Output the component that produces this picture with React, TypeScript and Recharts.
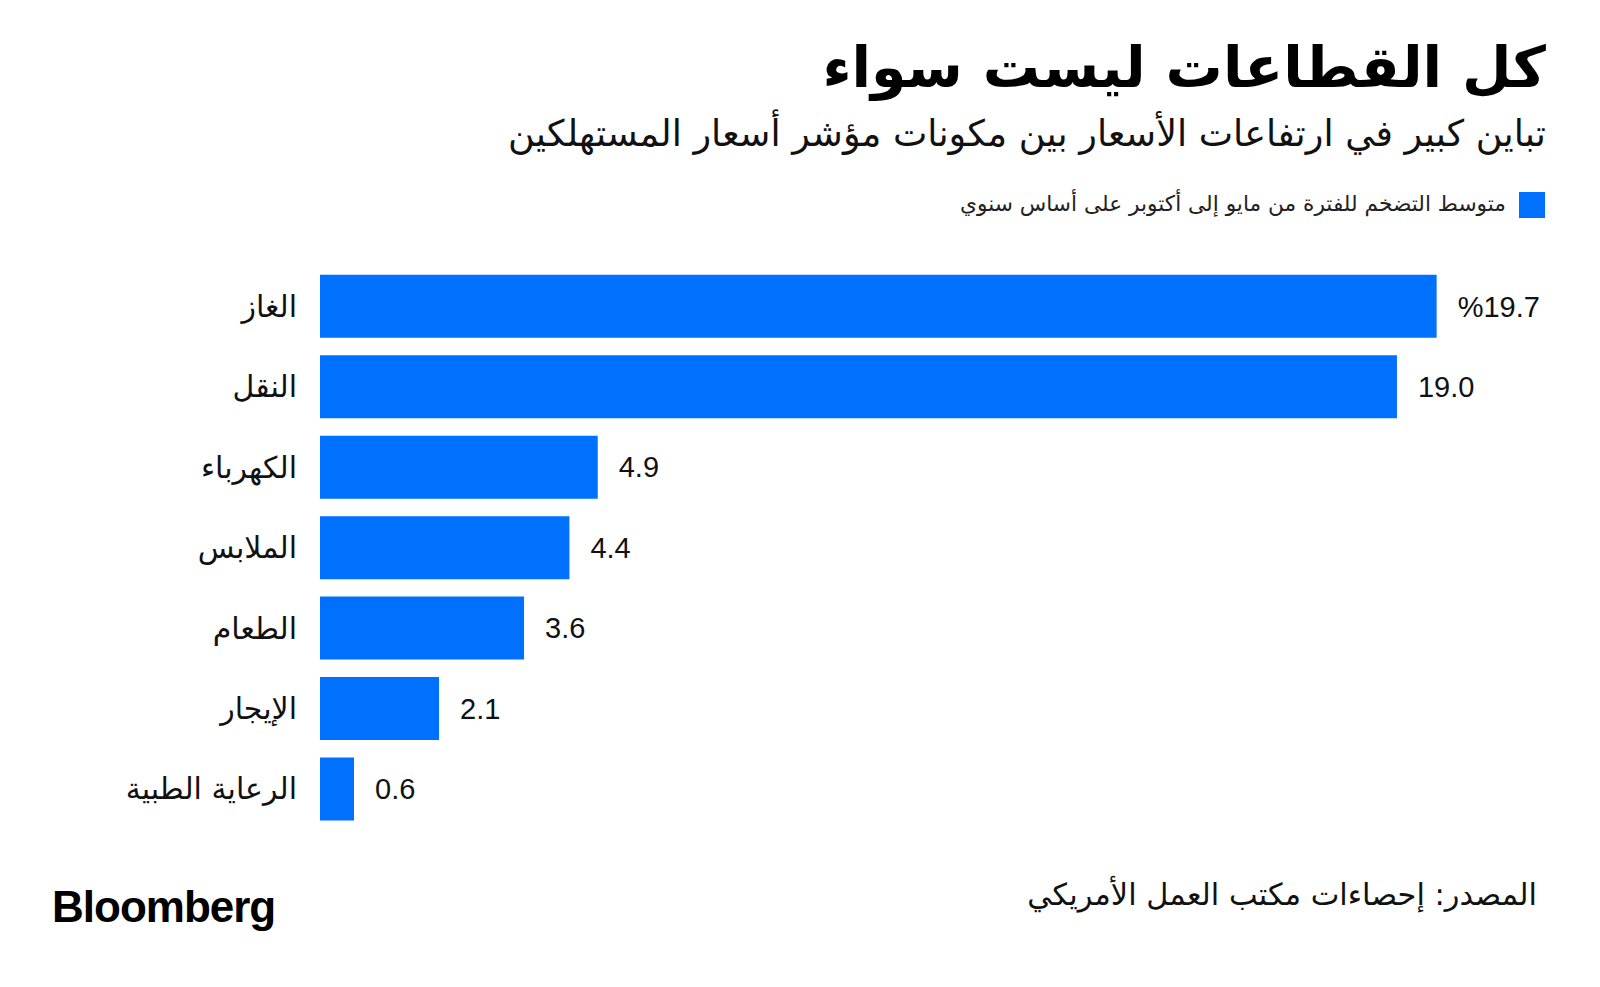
import { BarChart, Bar, XAxis, YAxis, LabelList } from 'recharts'

const categories = ['الغاز', 'النقل', 'الكهرباء', 'الملابس', 'الطعام', 'الإيجار', 'الرعاية الطبية']
const inflation = [19.7, 19.0, 4.9, 4.4, 3.6, 2.1, 0.6]

const seriesName = 'متوسط التضخم للفترة من مايو إلى أكتوبر على أساس سنوي'
const title = 'كل القطاعات ليست سواء'
const subtitle = 'تباين كبير في ارتفاعات الأسعار بين مكونات مؤشر أسعار المستهلكين'
const source = 'المصدر: إحصاءات مكتب العمل الأمريكي'

const data = categories.map((name, i) => ({ name, value: inflation[i] }))

const BLUE = '#0070ff'
const ARABIC = '"DejaVu Sans", sans-serif'
const LATIN = '"Liberation Sans", Arial, sans-serif'

function formatValue(v: number) {
  return v === inflation[0] ? `%${v.toFixed(1)}` : v.toFixed(1)
}

export default function App() {
  return (
    <div
      style={{
        position: 'absolute',
        left: 0,
        top: 0,
        width: 1600,
        height: 987,
        background: '#fff',
        overflow: 'hidden',
      }}
    >
      <div
        dir="rtl"
        style={{
          position: 'absolute',
          right: 54,
          top: 32,
          fontFamily: ARABIC,
          fontWeight: 700,
          fontSize: 57,
          lineHeight: '70px',
          color: '#000',
          whiteSpace: 'nowrap',
        }}
      >
        {title}
      </div>
      <div
        dir="rtl"
        style={{
          position: 'absolute',
          right: 54,
          top: 110,
          fontFamily: ARABIC,
          fontSize: 36.5,
          lineHeight: '48px',
          color: '#111',
          whiteSpace: 'nowrap',
        }}
      >
        {subtitle}
      </div>
      <div
        style={{
          position: 'absolute',
          left: 1519,
          top: 192,
          width: 26,
          height: 26,
          background: BLUE,
        }}
      />
      <div
        dir="rtl"
        style={{
          position: 'absolute',
          right: 94,
          top: 188,
          fontFamily: ARABIC,
          fontSize: 21.7,
          lineHeight: '32px',
          color: '#222',
          whiteSpace: 'nowrap',
        }}
      >
        {seriesName}
      </div>

      <div style={{ position: 'absolute', left: 0, top: 0 }}>
        <BarChart
          width={1600}
          height={987}
          data={data}
          layout="vertical"
          barCategoryGap="11%"
          margin={{ top: 266, bottom: 158, left: 0, right: 33 }}
        >
          <XAxis type="number" domain={[0, 22]} hide />
          <YAxis
            type="category"
            dataKey="name"
            width={320}
            axisLine={false}
            tickLine={false}
            tickSize={0}
            tickMargin={23}
            tick={{ fontFamily: ARABIC, fontSize: 30, fill: '#111' }}
          />
          <Bar dataKey="value" fill={BLUE} isAnimationActive={false}>
            <LabelList
              dataKey="value"
              position="right"
              offset={21}
              formatter={(v: any) => formatValue(Number(v))}
              style={{ fontFamily: LATIN, fontSize: 29, fill: '#111' }}
            />
          </Bar>
        </BarChart>
      </div>

      <div
        dir="rtl"
        style={{
          position: 'absolute',
          right: 63,
          top: 874,
          fontFamily: ARABIC,
          fontSize: 30.4,
          lineHeight: '42px',
          color: '#111',
          whiteSpace: 'nowrap',
        }}
      >
        {source}
      </div>
      <div
        style={{
          position: 'absolute',
          left: 52,
          top: 882,
          fontFamily: LATIN,
          fontWeight: 700,
          fontSize: 44,
          letterSpacing: -1,
          lineHeight: '50px',
          color: '#000',
        }}
      >
        Bloomberg
      </div>
    </div>
  )
}
